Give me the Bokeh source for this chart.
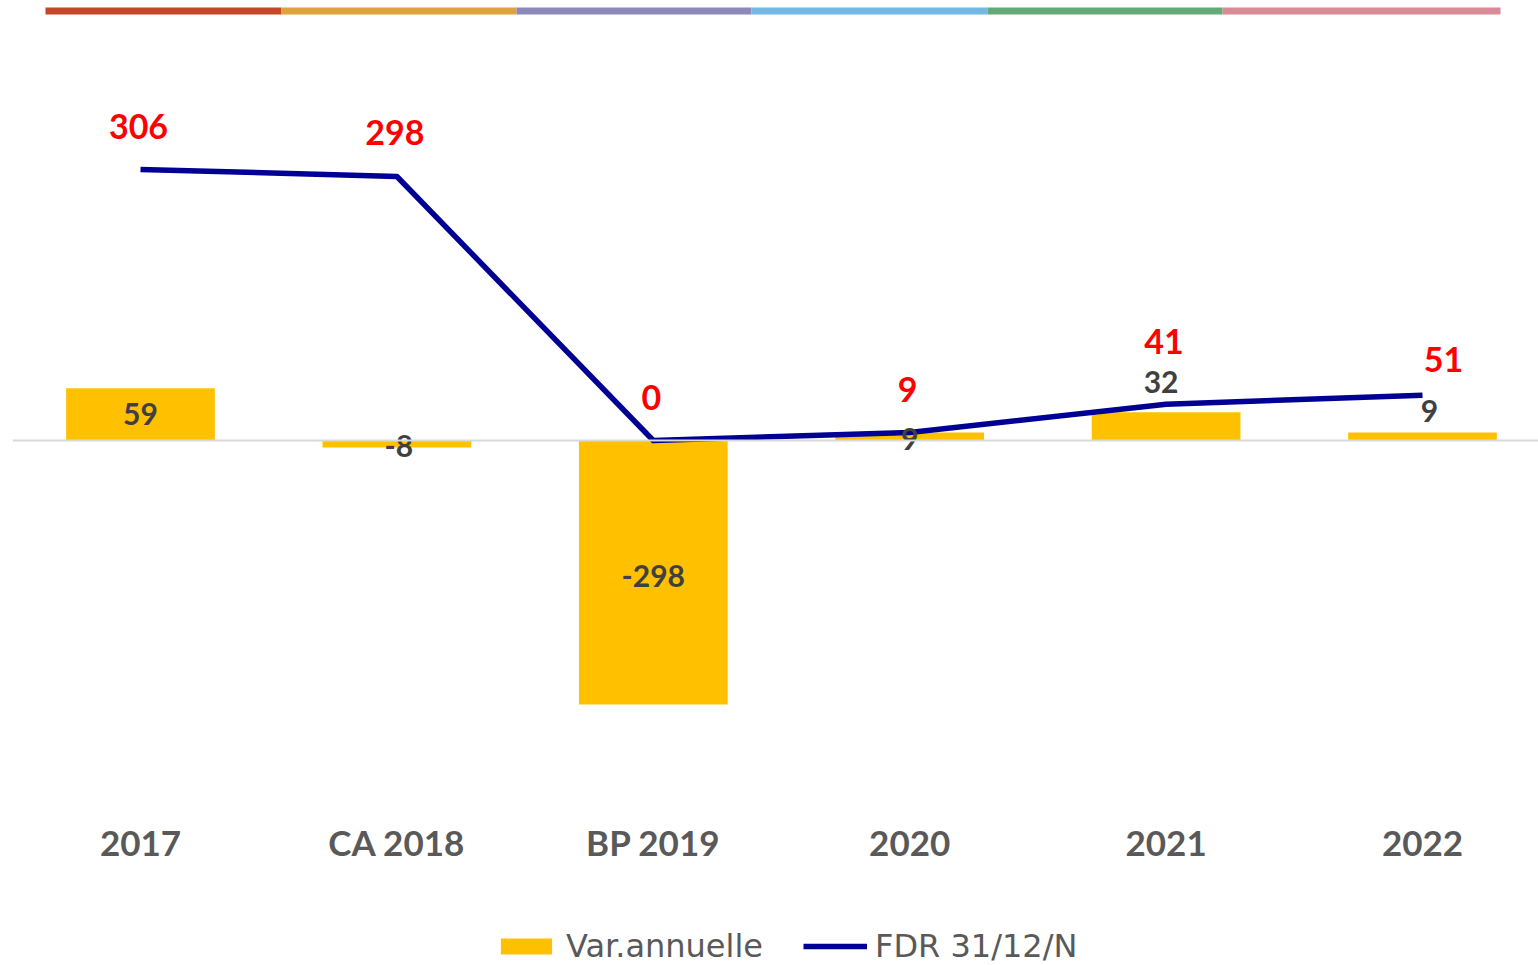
from bokeh.plotting import figure
from bokeh.models import (ColumnDataSource, Range1d, FixedTicker, Span, BoxAnnotation,
                          Legend, LegendItem)
from bokeh.core.properties import value
from bokeh.embed import file_html
from bokeh.resources import INLINE

# ---- data ----
categories = ["2017", "CA 2018", "BP 2019", "2020", "2021", "2022"]
var_annuelle = [59, -8, -298, 9, 32, 9]
fdr = [306, 298, 0, 9, 41, 51]

# label offsets in pixels (style)
bar_label_dx = [0, 2, 0, 0, -5, 7]
bar_label_dy = [0, 2, 3, 2, -44, -26]
line_label_dx = [-2, -2, -2, -2, -2, 21]
line_label_dy = [-43, -44, -43, -43, -63, -36]

# decorative stripe on top (page pixels)
stripe_colors = ["#C44727", "#DFA23C", "#8B89BA", "#74B8E4", "#64AA78", "#D88A96"]
stripe_edges_px = [45, 281, 516, 751, 987, 1222, 1500]
stripe_y_px = (7, 14)

BAR = "#FFC000"
LINE = "#000094"
FONT = "Lato"
LEG_FONT = "DejaVu Sans"

W, H = 1538, 965
FRAME_LEFT = 12
X0, XSTEP = -0.4992, 256.4            # data x at frame left, px per category
ZERO_PX, YSCALE = 440, 0.886          # page y of zero, px per unit

x_start = X0
x_end = X0 + (W - FRAME_LEFT) / XSTEP
y_end = ZERO_PX / YSCALE
y_start = -(H - ZERO_PX) / YSCALE

def px_to_x(px):
    return X0 + (px - FRAME_LEFT) / XSTEP

def py_to_y(py):
    return (ZERO_PX - py) / YSCALE

xs = list(range(len(categories)))

p = figure(width=W, height=H, output_backend="svg", toolbar_location=None,
           x_range=Range1d(x_start, x_end), y_range=Range1d(y_start, y_end),
           min_border_left=FRAME_LEFT, min_border_right=0, min_border_top=0,
           min_border_bottom=0)
p.outline_line_color = None
p.grid.visible = False
p.yaxis.visible = False
p.background_fill_color = "white"
p.border_fill_color = "white"

xa = p.xaxis[0]
xa.fixed_location = py_to_y(806)
xa.ticker = FixedTicker(ticks=xs)
xa.major_label_overrides = {i: c for i, c in enumerate(categories)}
xa.axis_line_color = None
xa.major_tick_line_color = None
xa.minor_tick_line_color = None
xa.major_label_text_font = FONT
xa.major_label_text_font_size = "35px"
xa.major_label_text_font_style = "bold"
xa.major_label_text_color = "#595959"
xa.major_label_standoff = 8

for i, c in enumerate(stripe_colors):
    p.add_layout(BoxAnnotation(left=px_to_x(stripe_edges_px[i]), right=px_to_x(stripe_edges_px[i + 1]),
                               top=py_to_y(stripe_y_px[0]), bottom=py_to_y(stripe_y_px[1]),
                               fill_color=c, fill_alpha=1, line_color=None, level="underlay"))

p.add_layout(Span(location=0, dimension="width", line_color="#D9D9D9", line_width=2))

src = ColumnDataSource(dict(
    x=xs, var=var_annuelle, fdr=fdr,
    var_mid=[v / 2 for v in var_annuelle],
    var_txt=[str(v) for v in var_annuelle],
    fdr_txt=[str(v) for v in fdr],
    bdx=bar_label_dx, bdy=bar_label_dy, ldx=line_label_dx, ldy=line_label_dy,
))

bars = p.vbar(x="x", top="var", bottom=0, width=0.58, source=src, fill_color=BAR, line_color=None)
line = p.line(x="x", y="fdr", source=src, line_color=LINE, line_width=5.5, line_join="round")

p.text(x="x", y="var_mid", text="var_txt", x_offset="bdx", y_offset="bdy", source=src,
       text_font=value(FONT), text_font_size="30px", text_font_style="bold",
       text_color="#404040", text_align="center", text_baseline="middle")
p.text(x="x", y="fdr", text="fdr_txt", x_offset="ldx", y_offset="ldy", source=src,
       text_font=value(FONT), text_font_size="34px", text_font_style="bold",
       text_color="#FF0000", text_align="center", text_baseline="middle")

legend = Legend(items=[LegendItem(label="Var.annuelle", renderers=[bars]),
                       LegendItem(label="FDR 31/12/N", renderers=[line])],
                orientation="horizontal", location=(494 - FRAME_LEFT, 0),
                glyph_width=64, glyph_height=20, label_standoff=8, spacing=40,
                label_text_font=LEG_FONT, label_text_font_size="32px",
                label_text_color="#595959", border_line_color=None,
                background_fill_alpha=0, margin=0, padding=0)
p.add_layout(legend, "center")

open("out.html", "w").write(file_html(p, INLINE))
